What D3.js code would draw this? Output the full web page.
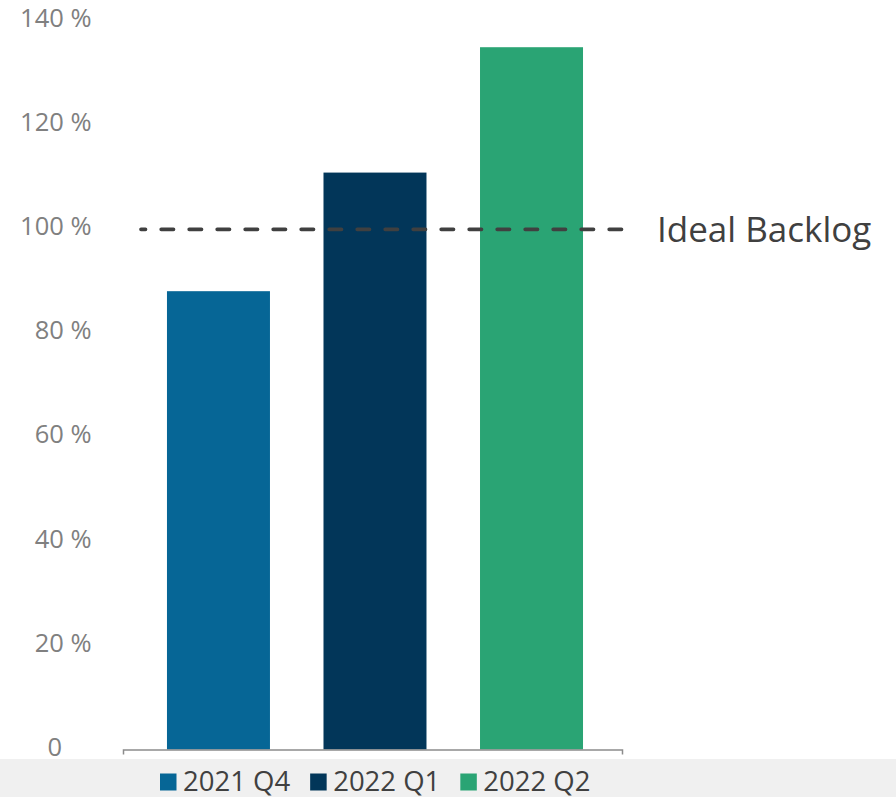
<!DOCTYPE html>
<html>
<head>
<meta charset="utf-8">
<script src="https://cdn.jsdelivr.net/npm/d3@7"></script>
<style>
  body { margin: 0; background: #fff; }
  svg { display: block; font-family: "Open Sans", "Noto Sans", sans-serif; }
</style>
</head>
<body>
<svg id="chart"></svg>
<script>
// chart data
var quarters = ['2021 Q4', '2022 Q1', '2022 Q2'];
var backlog = [88.1, 110.9, 135.0];
var barColors = ['#066696', '#023659', '#2aa474'];
var idealBacklog = 100;
var idealLabel = 'Ideal Backlog';
var yTicks = [0, 20, 40, 60, 80, 100, 120, 140];

var width = 896;
var height = 797;

var svg = d3.select('#chart')
    .attr('width', width)
    .attr('height', height);

// legend band at the bottom
svg.append('rect')
    .attr('x', 0)
    .attr('y', 759)
    .attr('width', width)
    .attr('height', height - 759)
    .attr('fill', '#f0f0f0');

// scales
var xScale = d3.scaleBand()
    .domain(quarters)
    .range([123, 622])
    .paddingInner(0.342)
    .paddingOuter(0.265)
    .align(0.53);

var yScale = d3.scaleLinear()
    .domain([0, 140])
    .range([749.5, 21.2]);

var colorScale = d3.scaleOrdinal()
    .domain(quarters)
    .range(barColors);

// bars
svg.append('g')
    .selectAll('rect')
    .data(quarters)
    .enter()
    .append('rect')
    .attr('x', d => xScale(d))
    .attr('y', (d, i) => yScale(backlog[i]))
    .attr('width', xScale.bandwidth())
    .attr('height', (d, i) => yScale(0) - yScale(backlog[i]))
    .attr('fill', d => colorScale(d));

// x axis: only the line with end ticks
var xAxis = svg.append('g')
    .attr('transform', `translate(0, ${yScale(0)})`)
    .call(d3.axisBottom(xScale).tickSizeInner(0).tickSizeOuter(5).tickFormat(''));
xAxis.select('.domain')
    .attr('stroke', '#8c8c8c')
    .attr('stroke-width', 1.5);
xAxis.selectAll('.tick').remove();

// y axis labels
var yAxis = svg.append('g')
    .attr('transform', 'translate(95, 0)')
    .call(d3.axisLeft(yScale)
        .tickValues(yTicks)
        .tickSize(0)
        .tickPadding(3.5)
        .tickFormat(d => d === 0 ? '0' : d + ' %'));
yAxis.select('.domain').remove();
yAxis.selectAll('text')
    .attr('fill', '#808080')
    .attr('font-size', '25.5px')
    .attr('font-family', '"Open Sans", sans-serif')
    .attr('dy', '0.22em')
    .attr('dx', d => d === 0 ? -29.5 : 0);

// ideal backlog reference line
var x0 = xScale.range()[0];
var x1 = xScale.range()[1];
svg.append('line')
    .attr('x1', x0 + 18)
    .attr('x2', x1 + 2)
    .attr('y1', yScale(idealBacklog))
    .attr('y2', yScale(idealBacklog))
    .attr('stroke', '#404040')
    .attr('stroke-width', 3.7)
    .attr('stroke-linecap', 'round')
    .attr('stroke-dasharray', '12.3,15.7')
    .attr('stroke-dashoffset', 7.8);

svg.append('text')
    .attr('x', 657)
    .attr('y', yScale(idealBacklog) + 12.4)
    .attr('fill', '#404040')
    .attr('font-size', '35px')
    .text(idealLabel);

// legend
var legend = svg.append('g');
var lx = 160;
quarters.forEach(function(q) {
    legend.append('rect')
        .attr('x', lx)
        .attr('y', 773.5)
        .attr('width', 16.5)
        .attr('height', 17)
        .attr('fill', colorScale(q));
    var t = legend.append('text')
        .attr('x', lx + 23)
        .attr('y', 790.5)
        .attr('fill', '#404040')
        .attr('font-size', '27.5px')
        .text(q);
    lx += 23 + t.node().getComputedTextLength() + 20;
});
</script>
</body>
</html>
